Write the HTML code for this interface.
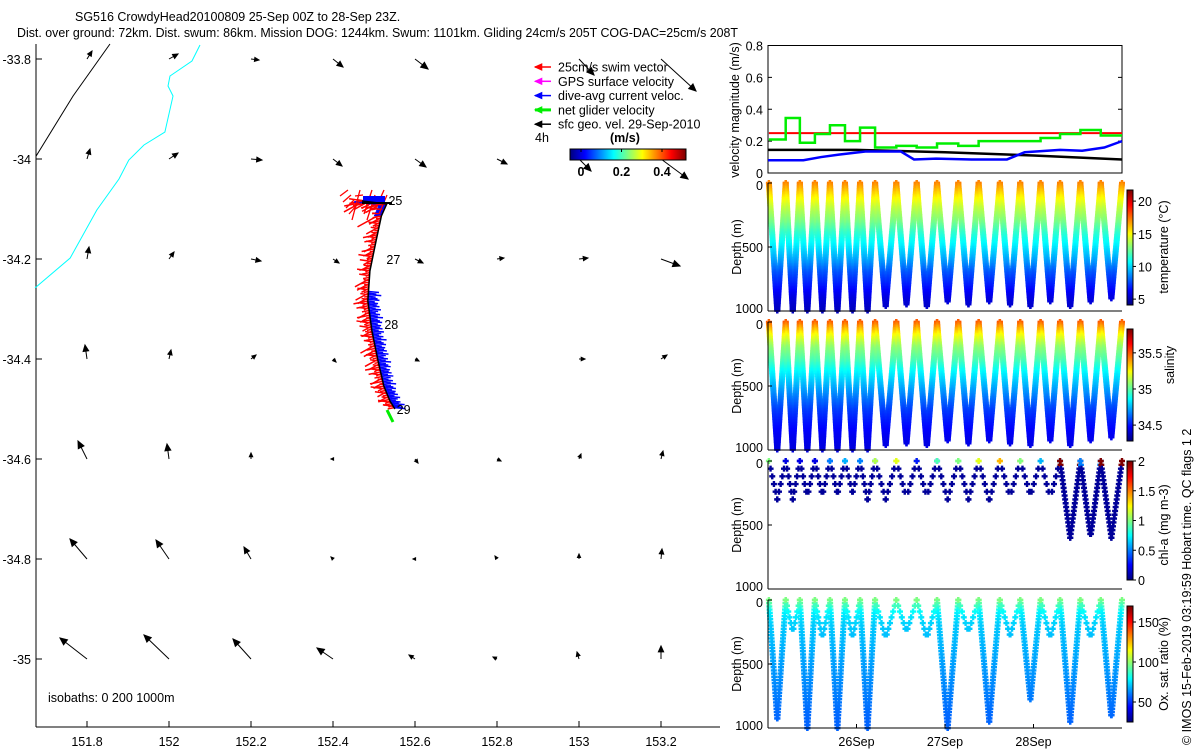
<!DOCTYPE html>
<html><head><meta charset="utf-8"><title>SG516 glider</title>
<style>
html,body{margin:0;padding:0;background:#fff;}
svg{display:block;font-family:"Liberation Sans",sans-serif;}
</style></head>
<body>
<svg id="fig" width="1200" height="750" viewBox="0 0 1200 750" xmlns="http://www.w3.org/2000/svg">
<rect x="0" y="0" width="1200" height="750" fill="#fff"/>
<text x="75" y="21" font-size="12.5">SG516 CrowdyHead20100809 25-Sep 00Z to 28-Sep 23Z.</text>
<text x="17" y="37" font-size="12.5" textLength="721" lengthAdjust="spacingAndGlyphs">Dist. over ground: 72km. Dist. swum: 86km. Mission DOG: 1244km. Swum: 1101km. Gliding 24cm/s 205T COG-DAC=25cm/s 208T</text>
<g id="map"></g>
<g id="legend"></g>
<g id="vel"></g>
<g id="depth"></g>
<text transform="translate(1191,745) rotate(-90)" font-size="12.5">© IMOS 15-Feb-2019 03:19:59 Hobart time. QC flags 1  2</text>
</svg>
<script>
// ---------- MAP DATA ----------
const lonTicks=[151.8,152,152.2,152.4,152.6,152.8,153,153.2];
const latTicks=[-33.8,-34,-34.2,-34.4,-34.6,-34.8,-35];
const geoU=[
 [0.05,0.09,0.08,0.10,0.13,0,0.15,0.35],
 [0.03,0.09,0.11,0.09,0.11,0.10,0.12,0.27],
 [0.02,0.05,0.10,0.06,0.08,0.07,0.09,0.19],
 [-0.02,0.02,0.05,0.03,0.04,0,0.06,0.06],
 [-0.09,-0.02,0,-0.02,0.03,0.04,0.02,0.02],
 [-0.17,-0.13,-0.07,-0.02,-0.02,-0.02,0,0.01],
 [-0.27,-0.25,-0.18,-0.16,-0.06,-0.04,-0.02,0]];
const geoV=[
 [0.08,0.05,-0.01,-0.08,-0.10,0,-0.16,-0.32],
 [0.10,0.06,-0.01,-0.07,-0.08,-0.05,-0.12,-0.20],
 [0.12,0.07,-0.02,-0.04,-0.04,0.01,0.01,-0.07],
 [0.14,0.09,0.04,-0.03,-0.02,0,0,0.04],
 [0.18,0.15,0.06,0,-0.04,-0.02,0.05,0.08],
 [0.20,0.19,0.12,0.02,0,0.03,0.05,0.10],
 [0.21,0.24,0.20,0.11,0.04,0.02,0.07,0.13]];
const coastLon=[152.0756,152.056,152.0024,151.9976,152.0098,151.990,151.939,151.902,151.878,151.824,151.759,151.673];
const coastLat=[-33.772,-33.804,-33.834,-33.854,-33.874,-33.946,-33.972,-34.002,-34.04,-34.102,-34.198,-34.258];
const isoLon=[151.676,151.766,151.856];
const isoLat=[-33.994,-33.874,-33.77];
const trackLon=[152.47,152.531,152.518,152.505,152.490,152.485,152.495,152.510,152.524,152.539,152.551];
const trackLat=[-34.084,-34.09,-34.114,-34.164,-34.224,-34.284,-34.344,-34.404,-34.454,-34.484,-34.5];
const dayLabels=["25","27","28","29"];
const dayLabelLon=[152.545,152.54,152.535,152.565];
const dayLabelLat=[-34.082,-34.2,-34.33,-34.5];

// ---------- VELOCITY / DIVE DATA ----------
const diveT=[0.01,0.2,0.36,0.53,0.70,0.87,1.04,1.21,1.45,1.68,1.91,2.15,2.38,2.62,2.85,3.08,3.30,3.53,3.76,4.0];
const netVel=[0.21,0.345,0.19,0.245,0.30,0.20,0.285,0.16,0.17,0.16,0.185,0.17,0.20,0.20,0.20,0.22,0.245,0.27,0.235];
const swimVel=[0.25,0.25,0.25,0.25,0.25,0.25,0.25,0.25,0.25,0.25,0.25,0.25,0.25,0.25,0.25,0.25,0.25,0.25,0.25];
const dacT=[0,0.4,0.6,0.8,1.1,1.5,1.65,1.9,2.3,2.7,2.9,3.3,3.55,3.8,4.0];
const dacVel=[0.08,0.08,0.1,0.115,0.135,0.135,0.085,0.09,0.085,0.085,0.13,0.145,0.14,0.16,0.2];
const geoT=[0,1,2,3,4];
const geoVel=[0.145,0.145,0.13,0.11,0.085];
const diveMaxDepth=[1000,1000,1000,1000,1000,1000,1000,960,950,970,930,950,930,950,960,930,970,930,900];
const profDepth=[0,100,200,300,400,500,600,700,800,900,1000];
const profTemp=[17.3,15.5,14,12.9,11.5,10.4,9.2,7.8,6.8,5.8,5.2];
const profSal=[35.5,35.25,35.08,34.98,34.85,34.75,34.65,34.56,34.5,34.45,34.42];
const profOx=[97,78,72,70,68,66,64,62,60,58,57];
const chlSurf=[1.0,0.2,0.2,0.2,0.5,0.6,0.5,1.1,1.2,0.3,0.9,1.0,1.2,1.4,1.0,0.6,2.0,0.5,2.0];
const chlDepth=[300,300,280,270,260,250,310,300,290,280,300,300,310,280,270,290,600,590,600];
const oxDepth=[940,250,1000,300,1000,300,1000,300,250,300,1000,250,950,280,780,300,950,300,920];
const dateLabels=["26Sep","27Sep","28Sep"];
const dateDays=[1,2,3];

// ---------- helpers ----------
const NS="http://www.w3.org/2000/svg";
function mk(tag,attrs,parent){const e=document.createElementNS(NS,tag);for(const k in attrs)e.setAttribute(k,attrs[k]);parent.appendChild(e);return e;}
function jet(t){t=Math.max(0,Math.min(1,t));const c=v=>Math.round(255*Math.max(0,Math.min(1,v)));
 return `rgb(${c(1.5-Math.abs(4*t-3))},${c(1.5-Math.abs(4*t-2))},${c(1.5-Math.abs(4*t-1))})`;}
function interp(xs,ys,x){if(x<=xs[0])return ys[0];for(let i=1;i<xs.length;i++){if(x<=xs[i]){const f=(x-xs[i-1])/(xs[i]-xs[i-1]);return ys[i-1]+f*(ys[i]-ys[i-1]);}}return ys[ys.length-1];}

// ---------- MAP ----------
const map=document.getElementById('map');
const mx=lon=>87+(lon-151.8)*410;
const my=lat=>659-(lat+35)*500;
let e;
e=mk('line',{x1:36,y1:44,x2:36,y2:727,stroke:'#000','stroke-width':1},map);


e=mk('line',{x1:36,y1:727,x2:720,y2:727,stroke:'#000','stroke-width':1},map);


lonTicks.forEach(l=>{const x=mx(l);mk('line',{x1:x,y1:727,x2:x,y2:721,stroke:'#000'},map);
 e=mk('text',{x:x,y:746,'font-size':12.5,'text-anchor':'middle'},map);e.textContent=String(l);
 
 });
latTicks.forEach(l=>{const y=my(l);mk('line',{x1:36,y1:y,x2:42,y2:y,stroke:'#000'},map);
 e=mk('text',{x:31,y:y+5,'font-size':12.5,'text-anchor':'end'},map);e.textContent=String(l);
 
 });
e=mk('polyline',{points:isoLon.map((l,i)=>mx(l)+','+my(isoLat[i])).join(' '),fill:'none',stroke:'#000','stroke-width':1},map);


e=mk('polyline',{points:coastLon.map((l,i)=>mx(l)+','+my(coastLat[i])).join(' '),fill:'none',stroke:'#00ffff','stroke-width':1},map);


const aScale=100;
function arrow(x0,y0,x1,y1,col,parent,w){
 const g=mk('g',{},parent);
 mk('line',{x1:x0,y1:y0,x2:x1,y2:y1,stroke:col,'stroke-width':w||1},g);
 const L=Math.hypot(x1-x0,y1-y0);if(L<0.5)return g;
 const ux=(x1-x0)/L,uy=(y1-y0)/L,h=Math.min(7,2+L*0.3),hw=h*0.45;
 mk('polygon',{points:`${x1},${y1} ${x1-ux*h-uy*hw},${y1-uy*h+ux*hw} ${x1-ux*h+uy*hw},${y1-uy*h-ux*hw}`,fill:col,stroke:col},g);
 return g;}
latTicks.forEach((lat,r)=>lonTicks.forEach((lon,c)=>{
 const u=geoU[r][c],v=geoV[r][c];if(u===0&&v===0)return;
 const x0=mx(lon),y0=my(lat);
 const g=arrow(x0,y0,x0+u*aScale,y0-v*aScale,'#000',map,1);
 
 }));
const tx=trackLon.map(mx),ty=trackLat.map(my);
tx[0]=362;
const fuzz=document.createElementNS(NS,'g');map.appendChild(fuzz);


const pat=[9,14,6,16,10,5,13,8,18,7,11,15,6,12];
let k=0;
for(let i=1;i<tx.length;i++){
 const n=Math.round(Math.hypot(tx[i]-tx[i-1],ty[i]-ty[i-1])/1.6);
 for(let j=0;j<n;j++){
  const f=j/n,x=tx[i-1]+f*(tx[i]-tx[i-1]),y=ty[i-1]+f*(ty[i]-ty[i-1]);
  const L=pat[k%pat.length]*(y<215?1.4:0.8);k++;
  mk('line',{x1:x,y1:y,x2:x-L,y2:y+L*0.35*((k%3)-1)+L*0.2,stroke:'#ff0000','stroke-width':1.5},fuzz);
  if(y>290||y<215) mk('line',{x1:x,y1:y,x2:x+(y<215?-8:4+pat[(k+3)%pat.length]*0.5),y2:y+1,stroke:'#0000ff','stroke-width':1.5},fuzz);
 }}
for(let j=0;j<14;j++){mk('line',{x1:348+j*3,y1:190+(j%4)*5,x2:340+j*3,y2:196+(j%5)*6,stroke:'#ff0000','stroke-width':1.3},fuzz);}
mk('rect',{x:363,y:196,width:22,height:8,fill:'#0000ff'},fuzz);
e=mk('polyline',{points:tx.map((x,i)=>x+','+ty[i]).join(' '),fill:'none',stroke:'#000','stroke-width':1.5},map);


mk('line',{x1:362,y1:203,x2:392,y2:203,stroke:'#000','stroke-width':2},map);
e=mk('line',{x1:387,y1:410,x2:393,y2:422,stroke:'#00ee00','stroke-width':3},map);


dayLabels.forEach((d,i)=>{e=mk('text',{x:mx(dayLabelLon[i])-4,y:my(dayLabelLat[i])+5,'font-size':12.5},map);e.textContent=d;
 
 });
e=mk('text',{x:48,y:702,'font-size':12.5,'xml:space':'preserve'},map);e.textContent='isobaths: 0   200  1000m';



// ---------- LEGEND ----------
const leg=document.getElementById('legend');
const legItems=[['25cm/s swim vector','#ff0000',1.5],['GPS surface velocity','#ff00ff',1.5],['dive-avg current veloc.','#0000ff',1.5],['net glider velocity','#00ee00',3],['sfc geo. vel. 29-Sep-2010','#000',1.5]];
legItems.forEach((it,i)=>{const y=67+i*14.3;
 const g=arrow(551,y,535,y,it[1],leg,it[2]);
 
 
 e=mk('text',{x:558,y:y+4.5,'font-size':12.5},leg);e.textContent=it[0];
 
 });
e=mk('text',{x:535,y:142,'font-size':12.5},leg);e.textContent='4h';


e=mk('text',{x:610,y:142,'font-size':12.5,'font-weight':'bold'},leg);e.textContent='(m/s)';


for(let i=0;i<116;i++){mk('rect',{x:570+i,y:149,width:1.2,height:11,fill:jet(i/115)},leg);}
mk('rect',{x:570,y:149,width:116,height:11,fill:'none',stroke:'#000'},leg);
[0,0.2,0.4].forEach((v,i)=>{const x=581+v/0.2*40.5;mk('line',{x1:x,y1:149,x2:x,y2:152,stroke:'#000'},leg);
 e=mk('text',{x:x,y:176,'font-size':12.5,'font-weight':'bold','text-anchor':'middle'},leg);e.textContent=String(v);
 
 });

// ---------- VELOCITY PANEL ----------
const vel=document.getElementById('vel');
const X0=768,X1=1122;
const tx2=t=>X0+t*(X1-X0)/4;
const vy=v=>173-v*(173-45.5)/0.8;
mk('rect',{x:X0,y:45.5,width:X1-X0,height:127.5,fill:'none',stroke:'#000'},vel);
[0,0.2,0.4,0.6,0.8].forEach(v=>{const y=vy(v);mk('line',{x1:X0,y1:y,x2:X0+4,y2:y,stroke:'#000'},vel);mk('line',{x1:X1,y1:y,x2:X1-4,y2:y,stroke:'#000'},vel);
 e=mk('text',{x:763,y:y+5,'font-size':12.5,'text-anchor':'end'},vel);e.textContent=String(v);
 
 });
e=mk('text',{transform:'translate(739,110) rotate(-90)','font-size':12.5,'text-anchor':'middle'},vel);e.textContent='velocity magnitude (m/s)';


function stepPts(vals){let p=[];vals.forEach((v,i)=>{p.push(tx2(diveT[i])+','+vy(v));p.push(tx2(diveT[i+1])+','+vy(v));});return p.join(' ');}
e=mk('polyline',{points:stepPts(swimVel),fill:'none',stroke:'#ff0000','stroke-width':2},vel);


e=mk('polyline',{points:geoT.map((t,i)=>tx2(t)+','+vy(geoVel[i])).join(' '),fill:'none',stroke:'#000','stroke-width':2.5},vel);


e=mk('polyline',{points:dacT.map((t,i)=>tx2(t)+','+vy(dacVel[i])).join(' '),fill:'none',stroke:'#0000ff','stroke-width':2.5},vel);


e=mk('polyline',{points:stepPts(netVel),fill:'none',stroke:'#00ee00','stroke-width':2.5},vel);



// ---------- DEPTH PANELS ----------
const dep=document.getElementById('depth');
const panels=[
 {top:183,bot:311,cbTop:190,cbBot:305,vmin:4.1,vmax:21.7,ticks:[5,10,15,20],label:'temperature (°C)',name:'temperature'},
 {top:322,bot:450,cbTop:329,cbBot:441,vmin:34.28,vmax:35.83,ticks:[34.5,35,35.5],label:'salinity',name:'salinity'},
 {top:461,bot:589,cbTop:461,cbBot:580,vmin:0,vmax:2,ticks:[0,0.5,1,1.5,2],label:'chl-a (mg m-3)',name:'chlorophyll'},
 {top:600,bot:728,cbTop:606,cbBot:722,vmin:25,vmax:170,ticks:[50,100,150],label:'Ox. sat. ratio (%)',name:'oxygen'}];
panels.forEach((p,pi)=>{
 const g=mk('g',{},dep);
 
 
 const dy=d=>p.top+d*(p.bot-p.top)/1000;
 const col=v=>jet((v-p.vmin)/(p.vmax-p.vmin));
 const pts=mk('g',{},g);
 
 
 function plus(x,y,c){mk('path',{d:`M${x-3},${y}h6M${x},${y-3}v6`,stroke:c,'stroke-width':2.4},pts);}
 for(let i=0;i<diveT.length-1;i++){
  const t0=diveT[i],t1=diveT[i+1],tm=(t0+t1)/2;
  let maxD,step;
  if(pi<2){maxD=diveMaxDepth[i];step=12;}
  else if(pi===2){maxD=chlDepth[i];step=maxD>400?30:60;}
  else{maxD=oxDepth[i];step=maxD>400?25:45;}
  for(let d=0;d<=maxD;d+=step){
   [t0+(tm-t0)*d/maxD,t1-(t1-tm)*d/maxD].forEach(tt=>{
    const x=tx2(tt);
    let v;
    if(pi===0)v=interp(profDepth,profTemp,d);
    else if(pi===1)v=interp(profDepth,profSal,d);
    else if(pi===2)v=d<40?chlSurf[i]:0.05;
    else v=interp(profDepth,profOx,d);
    plus(x,dy(d),col(v));});
  }}
 mk('line',{x1:X0,y1:p.top,x2:X0,y2:p.bot,stroke:'#000'},g);
 mk('line',{x1:X0,y1:p.bot,x2:X1,y2:p.bot,stroke:'#000'},g);
 [0,500,1000].forEach(d=>{const y=dy(d);mk('line',{x1:X0,y1:y,x2:X0+4,y2:y,stroke:'#000'},g);
  e=mk('text',{x:763,y:y+(d===0?7:d===1000?2:5),'font-size':12.5,'text-anchor':'end'},g);e.textContent=String(d);
  
  });
 e=mk('text',{transform:`translate(741,${(p.top+p.bot)/2}) rotate(-90)`,'font-size':12.5,'text-anchor':'middle'},g);e.textContent='Depth (m)';
 
 
 const cb=mk('g',{},g);
 
 
 const h=p.cbBot-p.cbTop;
 for(let j=0;j<h;j++)mk('rect',{x:1127,y:p.cbBot-j-1,width:6,height:1.3,fill:jet(j/(h-1))},cb);
 mk('rect',{x:1127,y:p.cbTop,width:6,height:h,fill:'none',stroke:'#000'},cb);
 p.ticks.forEach(v=>{const y=p.cbBot-(v-p.vmin)/(p.vmax-p.vmin)*h;
  mk('line',{x1:1133,y1:y,x2:1136,y2:y,stroke:'#000'},cb);
  e=mk('text',{x:1138,y:y+5,'font-size':12.5},cb);e.textContent=String(v);
  
  });
 e=mk('text',{transform:`translate(${pi===1?1174:1168},${pi===1?365:(p.top+p.bot)/2}) rotate(-90)`,'font-size':12.5,'text-anchor':'middle'},g);e.textContent=p.label;
 
 
});
dateLabels.forEach((d,i)=>{const x=tx2(dateDays[i]);mk('line',{x1:x,y1:728,x2:x,y2:724,stroke:'#000'},dep);
 e=mk('text',{x:x,y:746,'font-size':12.5,'text-anchor':'middle'},dep);e.textContent=d;
 
 });
</script>
</body></html>
